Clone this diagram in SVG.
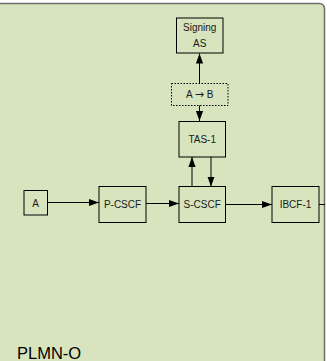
<svg xmlns="http://www.w3.org/2000/svg" width="327" height="361" viewBox="0 0 327 361">
<style>
.bg{fill:#d7e4bd;stroke:#6e6e6e;stroke-width:1.5}
.box{fill:none;stroke:#000;stroke-width:1}
.dash{fill:none;stroke:#000;stroke-width:1;stroke-dasharray:1.5 1.5}
.t{font-family:"Liberation Sans",Arial,sans-serif;font-size:10px;fill:#1a1a1a;text-anchor:middle}
.arr{font-family:"DejaVu Sans",sans-serif;font-size:11px}
.lbl{font-family:"Liberation Sans",Arial,sans-serif;font-size:16.5px;fill:#000}
.c{stroke:#000;stroke-width:1;fill:none}
</style>
<defs>
<marker id="ah" viewBox="0 0 10 10" refX="10" refY="5" markerWidth="10" markerHeight="9" markerUnits="userSpaceOnUse" orient="auto" preserveAspectRatio="none">
<path d="M0,1 L10,5 L0,9 Z" fill="#000"/>
</marker>
</defs>
<g id="plmn-o">
<rect class="bg" x="-10" y="3.5" width="334.5" height="370" rx="5"/>
<text class="lbl" x="17" y="359">PLMN-O</text>
</g>
<g id="connectors">
<line class="c" x1="199.5" y1="83.5" x2="199.5" y2="53.5" marker-end="url(#ah)"/>
<line class="c" x1="199.5" y1="105.5" x2="199.5" y2="121" marker-end="url(#ah)"/>
<line class="c" x1="192" y1="186.5" x2="192" y2="157" marker-end="url(#ah)"/>
<line class="c" x1="211" y1="157" x2="211" y2="186.5" marker-end="url(#ah)"/>
<line class="c" x1="47.5" y1="202.5" x2="99" y2="202.5" marker-end="url(#ah)"/>
<line class="c" x1="146" y1="203.5" x2="179" y2="203.5" marker-end="url(#ah)"/>
<line class="c" x1="225.5" y1="204.5" x2="272" y2="204.5" marker-end="url(#ah)"/>
<line class="c" x1="319" y1="204.5" x2="325" y2="204.5"/>
</g>
<g id="signing-as">
<rect class="box" x="176.5" y="18" width="46.5" height="35"/>
<text class="t" x="199.7" y="31">Signing</text>
<text class="t" x="199.7" y="47">AS</text>
</g>
<g id="a-to-b">
<rect class="dash" x="171.5" y="83.5" width="56.5" height="22"/>
<text class="t" x="199.7" y="98">A <tspan class="arr">→</tspan> B</text>
</g>
<g id="tas-1">
<rect class="box" x="179" y="121.5" width="46.5" height="35.5"/>
<text class="t" x="202.2" y="143">TAS-1</text>
</g>
<g id="a">
<rect class="box" x="24" y="190.5" width="23.5" height="24.5"/>
<text class="t" x="35.7" y="206.5">A</text>
</g>
<g id="p-cscf">
<rect class="box" x="99" y="186.5" width="47" height="36"/>
<text class="t" x="122.5" y="208">P-CSCF</text>
</g>
<g id="s-cscf">
<rect class="box" x="179" y="186.5" width="46.5" height="36"/>
<text class="t" x="202.2" y="208">S-CSCF</text>
</g>
<g id="ibcf-1">
<rect class="box" x="272" y="186.5" width="47" height="36"/>
<text class="t" x="295.5" y="208">IBCF-1</text>
</g>
</svg>
